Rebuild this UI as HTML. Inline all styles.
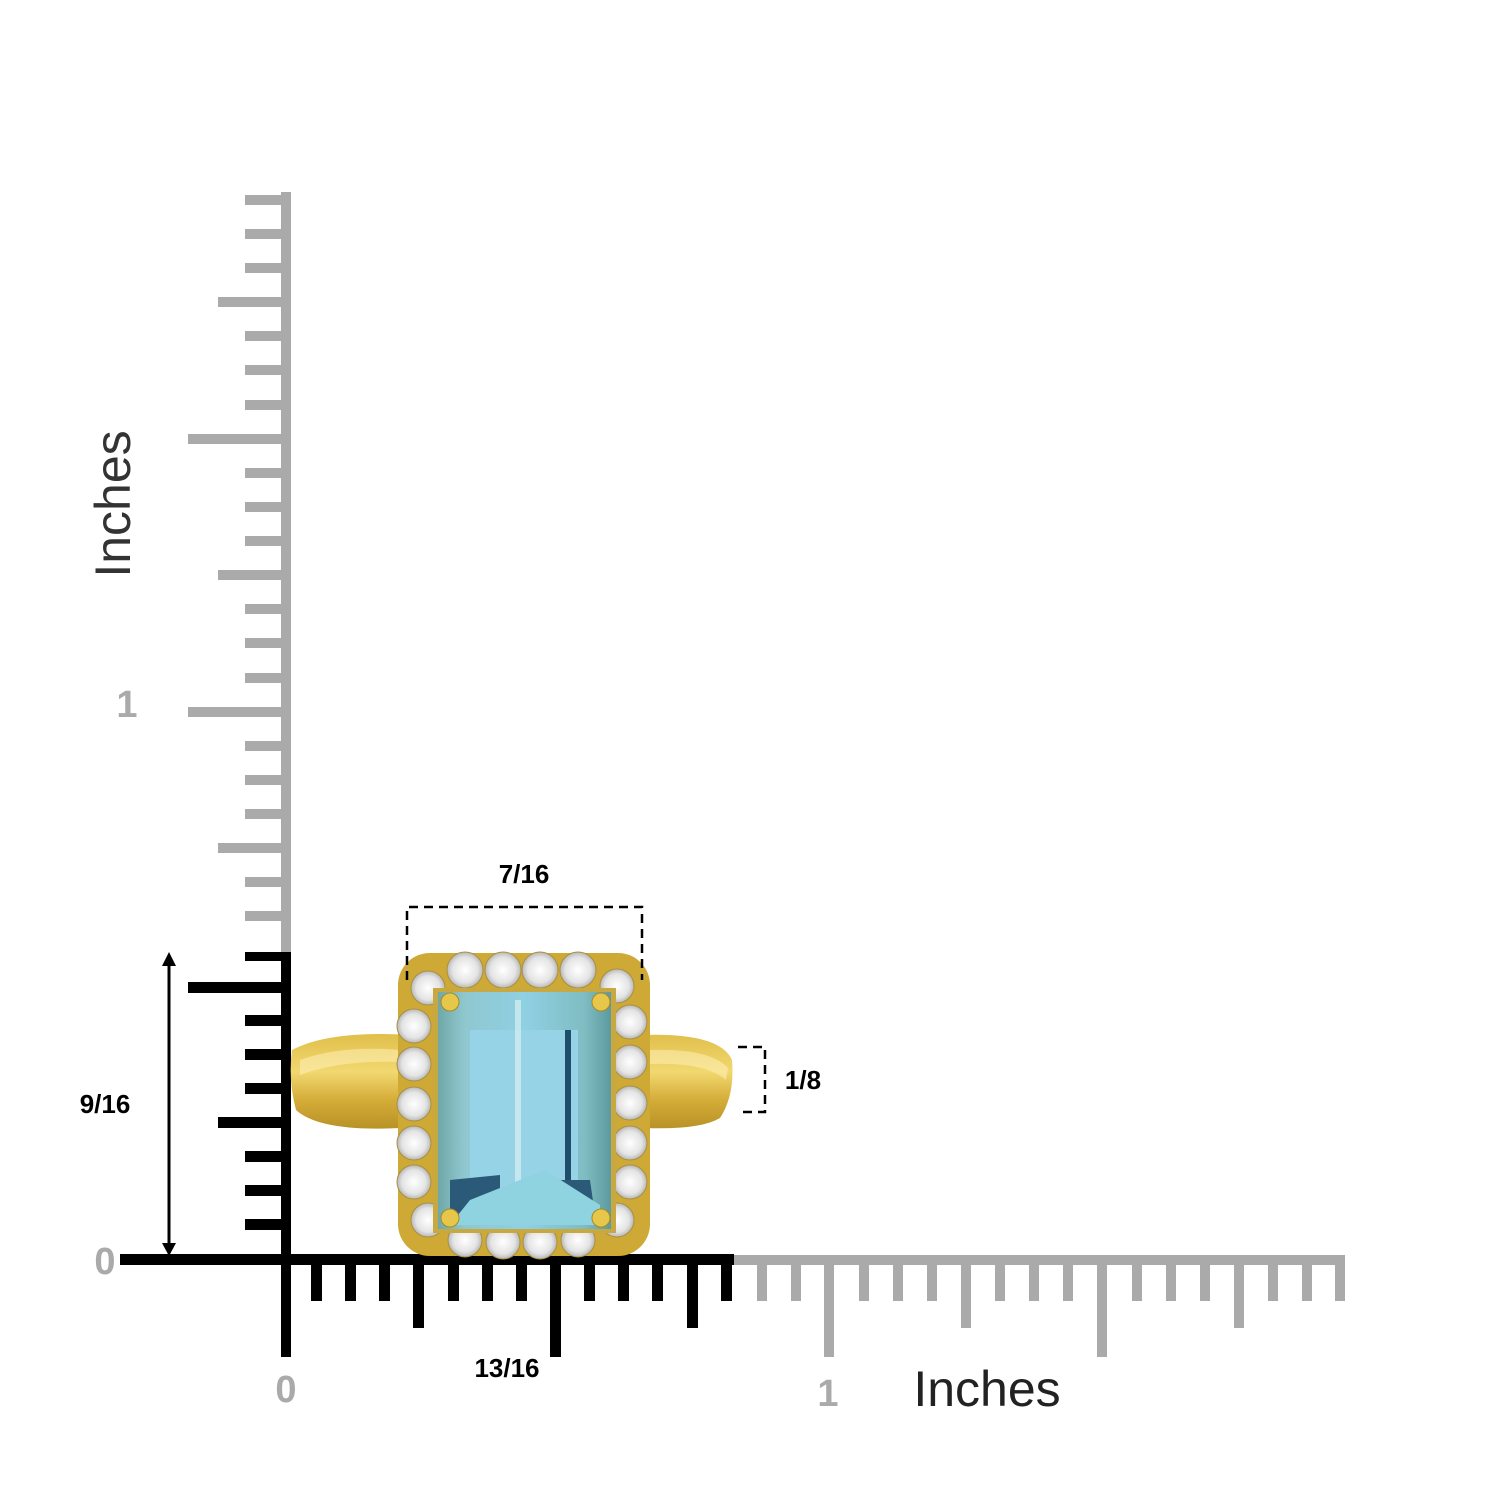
<!DOCTYPE html>
<html><head><meta charset="utf-8"><style>
html,body{margin:0;padding:0;background:#fff}
svg{display:block}
text{font-family:"Liberation Sans",sans-serif}
</style></head><body>
<svg width="1500" height="1500" viewBox="0 0 1500 1500" xmlns="http://www.w3.org/2000/svg">
<defs>
<linearGradient id="gold" x1="0" y1="0" x2="0" y2="1">
<stop offset="0" stop-color="#e0bf4a"/><stop offset="0.4" stop-color="#f2d870"/><stop offset="0.7" stop-color="#d4ac38"/><stop offset="1" stop-color="#b89226"/></linearGradient>
<linearGradient id="aqua" x1="0" y1="0" x2="1" y2="0">
<stop offset="0" stop-color="#6fa8a8"/><stop offset="0.15" stop-color="#8fc7cf"/><stop offset="0.5" stop-color="#8fd0e3"/><stop offset="0.85" stop-color="#7fbcc2"/><stop offset="1" stop-color="#5d9aa0"/></linearGradient>
<radialGradient id="dia"><stop offset="0" stop-color="#ffffff"/><stop offset="0.7" stop-color="#e4e4e4"/><stop offset="1" stop-color="#b8b8b8"/></radialGradient>
</defs>

<g fill="#aaaaaa">
<rect x="281" y="192" width="10" height="762"/>
<rect x="245" y="195" width="40" height="10"/>
<rect x="245" y="229" width="40" height="10"/>
<rect x="245" y="263" width="40" height="10"/>
<rect x="218" y="297" width="67" height="10"/>
<rect x="245" y="331" width="40" height="10"/>
<rect x="245" y="365" width="40" height="10"/>
<rect x="245" y="400" width="40" height="10"/>
<rect x="188" y="434" width="97" height="10"/>
<rect x="245" y="468" width="40" height="10"/>
<rect x="245" y="502" width="40" height="10"/>
<rect x="245" y="536" width="40" height="10"/>
<rect x="218" y="570" width="67" height="10"/>
<rect x="245" y="604" width="40" height="10"/>
<rect x="245" y="638" width="40" height="10"/>
<rect x="245" y="673" width="40" height="10"/>
<rect x="188" y="707" width="97" height="10"/>
<rect x="245" y="741" width="40" height="10"/>
<rect x="245" y="775" width="40" height="10"/>
<rect x="245" y="809" width="40" height="10"/>
<rect x="218" y="843" width="67" height="10"/>
<rect x="245" y="877" width="40" height="10"/>
<rect x="245" y="911" width="40" height="10"/>
</g>
<g fill="#aaaaaa">
<rect x="730" y="1255" width="615" height="10"/>
<rect x="757" y="1258" width="10" height="43"/>
<rect x="791" y="1258" width="10" height="43"/>
<rect x="824" y="1258" width="10" height="99"/>
<rect x="859" y="1258" width="10" height="43"/>
<rect x="893" y="1258" width="10" height="43"/>
<rect x="927" y="1258" width="10" height="43"/>
<rect x="961" y="1258" width="10" height="70"/>
<rect x="995" y="1258" width="10" height="43"/>
<rect x="1029" y="1258" width="10" height="43"/>
<rect x="1063" y="1258" width="10" height="43"/>
<rect x="1097" y="1258" width="10" height="99"/>
<rect x="1132" y="1258" width="10" height="43"/>
<rect x="1166" y="1258" width="10" height="43"/>
<rect x="1200" y="1258" width="10" height="43"/>
<rect x="1234" y="1258" width="10" height="70"/>
<rect x="1268" y="1258" width="10" height="43"/>
<rect x="1302" y="1258" width="10" height="43"/>
<rect x="1335" y="1258" width="10" height="43"/>
</g>
<g fill="#000">
<rect x="281" y="952" width="10" height="405"/>
<rect x="245" y="952" width="40" height="9"/>
<rect x="188" y="982" width="97" height="11"/>
<rect x="245" y="1015" width="40" height="11"/>
<rect x="245" y="1049" width="40" height="11"/>
<rect x="245" y="1083" width="40" height="11"/>
<rect x="218" y="1117" width="67" height="11"/>
<rect x="245" y="1151" width="40" height="11"/>
<rect x="245" y="1185" width="40" height="11"/>
<rect x="245" y="1219" width="40" height="11"/>
<rect x="120" y="1254" width="614" height="11"/>
<rect x="311" y="1258" width="11" height="43"/>
<rect x="345" y="1258" width="11" height="43"/>
<rect x="379" y="1258" width="11" height="43"/>
<rect x="413" y="1258" width="11" height="70"/>
<rect x="448" y="1258" width="11" height="43"/>
<rect x="482" y="1258" width="11" height="43"/>
<rect x="516" y="1258" width="11" height="43"/>
<rect x="550" y="1258" width="11" height="99"/>
<rect x="584" y="1258" width="11" height="43"/>
<rect x="618" y="1258" width="11" height="43"/>
<rect x="652" y="1258" width="11" height="43"/>
<rect x="687" y="1258" width="11" height="70"/>
<rect x="721" y="1258" width="11" height="43"/>
</g>

<path d="M292 1050 Q330 1030 410 1035 L640 1035 Q720 1032 732 1060 Q735 1095 720 1118 Q700 1130 645 1128 L400 1128 Q320 1132 296 1110 Q288 1080 292 1050 Z" fill="url(#gold)"/>
<path d="M300 1060 Q340 1045 400 1050 L400 1062 Q340 1060 300 1075Z" fill="#fff4c0" opacity="0.5"/>
<path d="M650 1050 Q710 1048 728 1068 L726 1080 Q705 1062 650 1064Z" fill="#fff4c0" opacity="0.5"/>

<rect x="398" y="953" width="252" height="303" rx="32" fill="#cfa935"/>
<g fill="url(#dia)" stroke="#a89040" stroke-width="1">
<circle cx="465" cy="970" r="18"/><circle cx="503" cy="970" r="18"/><circle cx="540" cy="970" r="18"/><circle cx="578" cy="970" r="18"/>
<circle cx="428" cy="988" r="17"/><circle cx="617" cy="986" r="17"/>
<circle cx="414" cy="1026" r="17"/><circle cx="414" cy="1064" r="17"/><circle cx="414" cy="1104" r="17"/><circle cx="414" cy="1143" r="17"/><circle cx="414" cy="1182" r="17"/>
<circle cx="630" cy="1022" r="17"/><circle cx="630" cy="1062" r="17"/><circle cx="630" cy="1103" r="17"/><circle cx="630" cy="1143" r="17"/><circle cx="630" cy="1182" r="17"/>
<circle cx="428" cy="1220" r="17"/><circle cx="617" cy="1220" r="17"/>
<circle cx="465" cy="1240" r="17"/><circle cx="503" cy="1242" r="17"/><circle cx="540" cy="1242" r="17"/><circle cx="578" cy="1240" r="17"/>
</g>
<rect x="433" y="988" width="183" height="245" fill="#c8a840"/>
<rect x="438" y="992" width="173" height="237" fill="url(#aqua)"/>
<rect x="470" y="1030" width="108" height="160" fill="#96d3e6"/>
<rect x="515" y="1000" width="6" height="220" fill="#d8f0f0" opacity="0.7"/>
<rect x="565" y="1030" width="6" height="160" fill="#1f4e6a"/>
<path d="M450 1180 L500 1175 L500 1215 L450 1215Z" fill="#2a5a78"/>
<path d="M540 1180 L590 1180 L595 1215 L540 1215Z" fill="#2a5a78"/>
<path d="M470 1200 L545 1170 L600 1205 L600 1225 L450 1225Z" fill="#8fd2e0"/>
<g fill="#e6c74a" stroke="#a88a20"><circle cx="450" cy="1002" r="9"/><circle cx="601" cy="1002" r="9"/><circle cx="450" cy="1218" r="9"/><circle cx="601" cy="1218" r="9"/></g>

<g fill="none" stroke="#000" stroke-width="2.5" stroke-dasharray="9,6">
<path d="M407 980 L407 907 L642 907 L642 980"/>
<path d="M738 1047 L765 1047 L765 1112 L738 1112"/>
</g>
<line x1="169" y1="965" x2="169" y2="1244" stroke="#000" stroke-width="3"/>
<path d="M162 966 L169 952 L176 966Z M162 1243 L169 1256 L176 1243Z" fill="#000"/>

<g font-weight="bold" font-size="26" fill="#000" text-anchor="middle">
<text x="524" y="883">7/16</text>
<text x="105" y="1113">9/16</text>
<text x="803" y="1089">1/8</text>
<text x="507" y="1377">13/16</text>
</g>
<g font-weight="bold" font-size="38" fill="#aaaaaa" text-anchor="middle">
<text x="105" y="1274">0</text>
<text x="127" y="717">1</text>
<text x="286" y="1402">0</text>
<text x="828" y="1406">1</text>
</g>
<text x="987" y="1406" font-size="50" fill="#222" text-anchor="middle" font-family="DejaVu Sans, sans-serif">Inches</text>
<text transform="translate(130,504) rotate(-90)" font-size="50" fill="#333" text-anchor="middle" font-family="DejaVu Sans, sans-serif">Inches</text>
</svg>
</body></html>
